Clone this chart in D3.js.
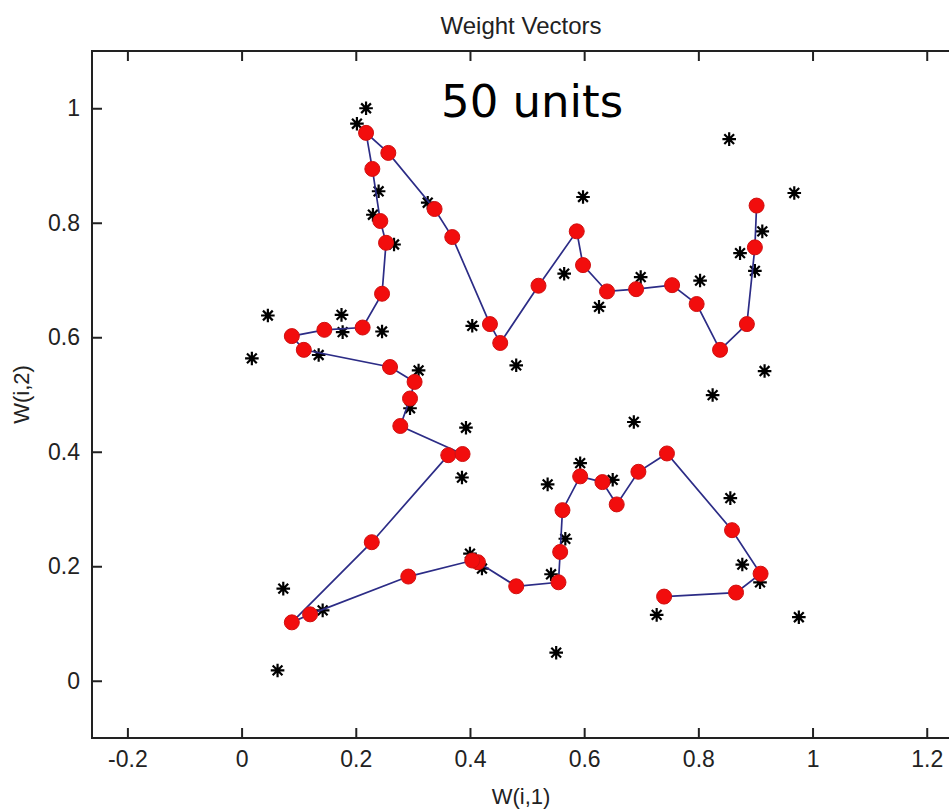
<!DOCTYPE html>
<html>
<head>
<meta charset="utf-8">
<script src="https://cdn.jsdelivr.net/npm/d3@7"></script>
<style>
  html, body { margin: 0; padding: 0; background: #fff; }
  svg { display: block; }
</style>
</head>
<body>
<div id="chart"></div>
<script>
// weight vectors of the 50 SOM units, in chain order
const weightX = [0.740, 0.866, 0.909, 0.859, 0.745, 0.695, 0.657, 0.632, 0.593, 0.562,
  0.558, 0.555, 0.481, 0.414, 0.404, 0.292, 0.120, 0.088, 0.228, 0.362,
  0.387, 0.278, 0.295, 0.303, 0.260, 0.109, 0.088, 0.145, 0.212, 0.246,
  0.253, 0.243, 0.229, 0.218, 0.257, 0.338, 0.369, 0.435, 0.453, 0.520,
  0.587, 0.598, 0.640, 0.691, 0.754, 0.797, 0.838, 0.885, 0.899, 0.902];
const weightY = [0.147, 0.154, 0.187, 0.263, 0.397, 0.365, 0.308, 0.347, 0.357, 0.298,
  0.225, 0.172, 0.165, 0.207, 0.210, 0.182, 0.116, 0.102, 0.242, 0.394,
  0.396, 0.445, 0.493, 0.522, 0.548, 0.578, 0.602, 0.613, 0.617, 0.676,
  0.765, 0.803, 0.894, 0.957, 0.922, 0.824, 0.775, 0.623, 0.590, 0.690,
  0.785, 0.726, 0.680, 0.684, 0.691, 0.658, 0.578, 0.623, 0.757, 0.830];

// input samples (asterisks)
const inputX = [0.218, 0.202, 0.240, 0.230, 0.267, 0.326, 0.598, 0.968, 0.404, 0.481,
  0.565, 0.626, 0.699, 0.803, 0.873, 0.912, 0.899, 0.916, 0.310, 0.854,
  0.046, 0.175, 0.177, 0.246, 0.018, 0.135, 0.295, 0.393, 0.386, 0.073,
  0.142, 0.063, 0.400, 0.421, 0.536, 0.593, 0.650, 0.687, 0.567, 0.542,
  0.551, 0.727, 0.825, 0.856, 0.877, 0.908, 0.976];
const inputY = [1.000, 0.973, 0.855, 0.814, 0.762, 0.835, 0.845, 0.852, 0.620, 0.551,
  0.711, 0.653, 0.705, 0.699, 0.747, 0.785, 0.716, 0.541, 0.542, 0.946,
  0.638, 0.639, 0.609, 0.610, 0.563, 0.569, 0.476, 0.442, 0.355, 0.161,
  0.123, 0.018, 0.222, 0.196, 0.343, 0.380, 0.351, 0.452, 0.248, 0.186,
  0.049, 0.115, 0.499, 0.319, 0.203, 0.172, 0.111];

const xTicks = [-0.2, 0, 0.2, 0.4, 0.6, 0.8, 1, 1.2];
const yTicks = [0, 0.2, 0.4, 0.6, 0.8, 1];

const width = 949;
const height = 809;
const box = { left: 92, right: 953, top: 51, bottom: 738 };
const font = "'Liberation Sans', Arial, sans-serif";
const fmt = (d) => String(d);

const x = d3.scaleLinear().domain([-0.262, 1.246]).range([box.left, box.right]);
const y = d3.scaleLinear().domain([-0.1, 1.1]).range([box.bottom, box.top]);

const svg = d3.select("#chart").append("svg")
  .attr("width", width)
  .attr("height", height)
  .style("background", "#fff");

function styleAxis(g) {
  g.select(".domain").remove();
  g.selectAll(".tick line").attr("stroke", "#222").attr("stroke-width", 2);
  g.selectAll(".tick text")
    .attr("fill", "#222")
    .attr("font-size", 23)
    .attr("font-family", font);
}

svg.append("g")
  .attr("transform", `translate(0,${box.bottom})`)
  .call(d3.axisBottom(x).tickValues(xTicks).tickSize(-10).tickPadding(13).tickFormat(fmt))
  .call(styleAxis);

svg.append("g")
  .attr("transform", `translate(0,${box.top})`)
  .call(d3.axisTop(x).tickValues(xTicks).tickSize(-10).tickFormat(""))
  .call(styleAxis);

svg.append("g")
  .attr("transform", `translate(${box.left},0)`)
  .call(d3.axisLeft(y).tickValues(yTicks).tickSize(-10).tickPadding(12).tickFormat(fmt))
  .call(styleAxis);

svg.append("rect")
  .attr("x", box.left)
  .attr("y", box.top)
  .attr("width", box.right - box.left)
  .attr("height", box.bottom - box.top)
  .attr("fill", "none")
  .attr("stroke", "#222")
  .attr("stroke-width", 2);

// asterisks for the inputs
const inputs = inputX.map((v, i) => [v, inputY[i]]);
const r = 6.8;
const starPath = `M${-r},0L${r},0M0,${-r}L0,${r}` +
  `M${-r * 0.72},${-r * 0.72}L${r * 0.72},${r * 0.72}` +
  `M${-r * 0.72},${r * 0.72}L${r * 0.72},${-r * 0.72}`;

svg.append("g")
  .selectAll("path")
  .data(inputs)
  .join("path")
  .attr("transform", (d) => `translate(${x(d[0])},${y(d[1])})`)
  .attr("d", starPath)
  .attr("stroke", "#000")
  .attr("stroke-width", 2.2)
  .attr("fill", "none");

// chain of weight vectors
const weights = weightX.map((v, i) => [v, weightY[i]]);

svg.append("path")
  .datum(weights)
  .attr("fill", "none")
  .attr("stroke", "#2c2c86")
  .attr("stroke-width", 1.7)
  .attr("d", d3.line().x((d) => x(d[0])).y((d) => y(d[1])));

svg.append("g")
  .selectAll("circle")
  .data(weights)
  .join("circle")
  .attr("cx", (d) => x(d[0]))
  .attr("cy", (d) => y(d[1]))
  .attr("r", 7.5)
  .attr("fill", "#f20d0d")
  .attr("stroke", "#d01010")
  .attr("stroke-width", 1);

// texts
svg.append("text")
  .attr("x", 521)
  .attr("y", 34)
  .attr("text-anchor", "middle")
  .attr("font-family", font)
  .attr("font-size", 24)
  .attr("fill", "#222")
  .text("Weight Vectors");

svg.append("text")
  .attr("x", 441)
  .attr("y", 117)
  .attr("font-family", "'DejaVu Sans', sans-serif")
  .attr("font-size", 45)
  .attr("fill", "#000")
  .text("50 units");

svg.append("text")
  .attr("x", 521)
  .attr("y", 804)
  .attr("text-anchor", "middle")
  .attr("font-family", font)
  .attr("font-size", 22)
  .attr("fill", "#222")
  .text("W(i,1)");

svg.append("text")
  .attr("transform", `translate(29,${(box.top + box.bottom) / 2}) rotate(-90)`)
  .attr("text-anchor", "middle")
  .attr("font-family", font)
  .attr("font-size", 22)
  .attr("fill", "#222")
  .text("W(i,2)");
</script>
</body>
</html>
